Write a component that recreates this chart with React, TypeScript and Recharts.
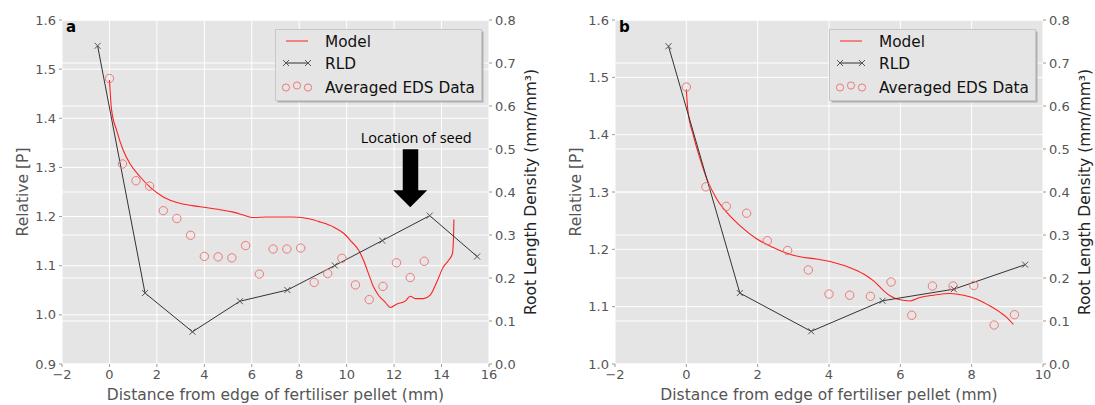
import React from "react"
import {
  ComposedChart,
  Line,
  Scatter,
  XAxis,
  YAxis,
  CartesianGrid,
  Legend,
  ReferenceDot,
} from "recharts"

// values
const RLD_X = [-0.5, 1.5, 3.5, 5.5, 7.5, 9.5, 11.5, 13.5, 15.5]
const RLD_A = [0.74, 0.165, 0.075, 0.146, 0.172, 0.229, 0.287, 0.345, 0.25]
const RLD_B = [0.739, 0.165, 0.076, 0.147, 0.174, 0.231]

const EDS_X = [
  0, 0.55, 1.12, 1.69, 2.27, 2.84, 3.42, 4.0, 4.58, 5.16, 5.74, 6.32, 6.9, 7.48, 8.06, 8.63,
  9.2, 9.8, 10.37, 10.95, 11.53, 12.1, 12.68, 13.27,
]
const EDS_A = [
  1.481, 1.307, 1.273, 1.262, 1.212, 1.196, 1.162, 1.119, 1.118, 1.116, 1.141, 1.083, 1.134,
  1.134, 1.136, 1.066, 1.084, 1.115, 1.061, 1.031, 1.058, 1.106, 1.076, 1.109,
]
const EDS_B = [
  1.483, 1.309, 1.275, 1.263, 1.215, 1.198, 1.164, 1.122, 1.12, 1.118, 1.143, 1.085, 1.136,
  1.136, 1.137, 1.068, 1.086,
]

const MODEL_A_X = [
  0, 0.09, 0.3, 0.58, 0.86, 1.29, 1.71, 2.27, 2.97, 3.82, 4.66, 5.22, 5.65, 6.0, 6.63, 7.76,
  8.46, 8.88, 9.44, 9.87, 10.22, 10.5, 10.71, 10.92, 11.13, 11.34, 11.62, 11.84, 12.12, 12.47,
  12.68, 12.89, 13.24, 13.52, 13.8, 14.08, 14.3, 14.46, 14.51, 14.52,
]
const MODEL_A = [
  1.478, 1.417, 1.376, 1.335, 1.308, 1.281, 1.26, 1.24, 1.227, 1.22, 1.214, 1.209, 1.203,
  1.198, 1.199, 1.199, 1.195, 1.189, 1.179, 1.166, 1.148, 1.132, 1.111, 1.084, 1.057, 1.04,
  1.026, 1.015, 1.022, 1.028, 1.038, 1.033, 1.033, 1.04, 1.067, 1.098, 1.111, 1.125, 1.166,
  1.194,
]

const MODEL_B_X = [
  0, 0.04, 0.2, 0.39, 0.58, 0.86, 1.14, 1.51, 1.98, 2.44, 2.82, 3.19, 3.66, 4.13, 4.59, 4.97,
  5.25, 5.53, 5.71, 5.99, 6.27, 6.55, 6.93, 7.39, 7.77, 8.15, 8.52, 8.8, 8.99, 9.17,
]
const MODEL_B = [
  1.479, 1.444, 1.398, 1.357, 1.322, 1.287, 1.264, 1.241, 1.218, 1.203, 1.193, 1.187, 1.183,
  1.177, 1.168, 1.157, 1.145, 1.128, 1.119, 1.112, 1.11, 1.116, 1.12, 1.123, 1.12, 1.113,
  1.101, 1.09, 1.081, 1.069,
]

const X_TICKS_A = [-2, 0, 2, 4, 6, 8, 10, 12, 14, 16]
const X_TICKS_B = [-2, 0, 2, 4, 6, 8, 10]
const P_TICKS_A = [0.9, 1.0, 1.1, 1.2, 1.3, 1.4, 1.5, 1.6]
const P_TICKS_B = [1.0, 1.1, 1.2, 1.3, 1.4, 1.5, 1.6]
const RLD_TICKS = [0, 0.1, 0.2, 0.3, 0.4, 0.5, 0.6, 0.7, 0.8]

// seed annotation (panel a): arrow tip location in data coords
const SEED = { x: 12.68, p: 1.219, label: "Location of seed" }

const BG = "#e5e5e5"
const RED = "#ff2020"
const EDS_RED = "#f07878"
const TICK_FONT = { fontFamily: "DejaVu Sans", fontSize: 13, fill: "#555" }

const zip = (xs: number[], ys: number[], key: string) =>
  ys.map((v, i) => ({ x: xs[i], [key]: v }))

const fmtX = (v: number) => (v < 0 ? `\u2212${-v}` : `${v}`)

function CrossDot(props: any) {
  const { cx, cy, index } = props
  if (cx == null || cy == null) return <g key={index} />
  const s = 3
  return (
    <path
      key={index}
      d={`M${cx - s},${cy - s}L${cx + s},${cy + s}M${cx - s},${cy + s}L${cx + s},${cy - s}`}
      stroke="#555"
      strokeWidth={1}
      fill="none"
    />
  )
}

function LegendBox() {
  return (
    <svg width={210} height={75} style={{ display: "block" }}>
      <rect x={2.5} y={2.5} width={206} height={71} fill="#b0b0b0" />
      <rect x={0.5} y={0.5} width={206} height={71} fill={BG} stroke="#c8c8c8" />
      <line x1={11} x2={33} y1={12} y2={12} stroke={RED} strokeWidth={1} />
      <line x1={11} x2={33} y1={34} y2={34} stroke="#333" strokeWidth={1} />
      <CrossDot cx={11} cy={34} />
      <CrossDot cx={33} cy={34} />
      <circle cx={11} cy={58.5} r={3.6} fill="none" stroke={EDS_RED} />
      <circle cx={22} cy={56.5} r={3.6} fill="none" stroke={EDS_RED} />
      <circle cx={33} cy={58.5} r={3.6} fill="none" stroke={EDS_RED} />
      <g fontFamily="DejaVu Sans" fontSize={15.3} fill="#111">
        <text x={50} y={17.5}>Model</text>
        <text x={50} y={40}>RLD</text>
        <text x={50} y={63.5}>Averaged EDS Data</text>
      </g>
    </svg>
  )
}

function SeedArrow(props: any) {
  const { cx, cy } = props
  if (cx == null || cy == null) return <g />
  return (
    <g>
      <polygon
        points={`${cx - 7.5},${cy - 58} ${cx + 8},${cy - 58} ${cx + 8},${cy - 17} ${cx + 17},${cy - 17} ${cx},${cy} ${cx - 17},${cy - 17} ${cx - 7.5},${cy - 17}`}
        fill="#000"
      />
      <text
        x={cx + 6}
        y={cy - 64}
        textAnchor="middle"
        fontFamily="Open Sans"
        fontSize={14.5}
        fill="#000"
      >
        {SEED.label}
      </text>
    </g>
  )
}

type PanelProps = {
  left: number
  width: number
  rightWidth: number
  xMax: number
  xTicks: number[]
  pMin: number
  pTicks: number[]
  model: { x: number; p: number }[]
  eds: { x: number; p: number }[]
  rld: { x: number; r: number }[]
  tag: string
  seed?: boolean
}

function Panel(props: PanelProps) {
  const { left, width, rightWidth, xMax, xTicks, pMin, pTicks, model, eds, rld, tag, seed } =
    props
  const plotLeft = 62
  const plotRight = width - rightWidth
  return (
    <div style={{ position: "absolute", left, top: 0, width, height: 405 }}>
      <ComposedChart
        width={width}
        height={405}
        margin={{ top: 19, right: 0, bottom: 0, left: 0 }}
      >
        <CartesianGrid
          yAxisId="p"
          fill={BG}
          stroke="#fff"
          strokeWidth={1}
          vertical
          horizontal
        />
        <CartesianGrid yAxisId="r" stroke="#fff" strokeWidth={1} vertical={false} horizontal />
        <XAxis
          type="number"
          dataKey="x"
          domain={[-2, xMax]}
          ticks={xTicks}
          allowDataOverflow
          tickFormatter={fmtX}
          height={41}
          axisLine={false}
          tickSize={3}
          tickMargin={3}
          tickLine={{ stroke: "#999" }}
          tick={TICK_FONT}
          label={{
            value: "Distance from edge of fertiliser pellet (mm)",
            position: "center",
            dy: 10,
            style: { fontFamily: "DejaVu Sans", fontSize: 15.5, fill: "#555" },
          }}
        />
        <XAxis
          xAxisId="top"
          orientation="top"
          type="number"
          dataKey="x"
          domain={[-2, xMax]}
          ticks={xTicks}
          allowDataOverflow
          height={1}
          axisLine={false}
          tick={false}
          tickSize={3}
          tickLine={{ stroke: "#999" }}
        />
        <YAxis
          yAxisId="p"
          type="number"
          dataKey="p"
          domain={[pMin, 1.6]}
          ticks={pTicks}
          allowDataOverflow
          tickFormatter={(v: number) => v.toFixed(1)}
          width={plotLeft}
          axisLine={false}
          tickSize={3}
          tickMargin={3}
          tickLine={{ stroke: "#999" }}
          tick={TICK_FONT}
          label={{
            value: "Relative [P]",
            angle: -90,
            position: "center",
            dx: -9,
            style: { fontFamily: "DejaVu Sans", fontSize: 15.5, fill: "#555" },
          }}
        />
        <YAxis
          yAxisId="r"
          orientation="right"
          type="number"
          dataKey="r"
          domain={[0, 0.8]}
          ticks={RLD_TICKS}
          allowDataOverflow
          tickFormatter={(v: number) => v.toFixed(1)}
          width={rightWidth}
          axisLine={false}
          tickSize={3}
          tickMargin={3}
          tickLine={{ stroke: "#999" }}
          tick={TICK_FONT}
          label={{
            value: "Root Length Density (mm/mm\u00b3)",
            angle: -90,
            position: "center",
            dx: 41 - rightWidth / 2,
            style: { fontFamily: "DejaVu Sans", fontSize: 15.5, fill: "#222" },
          }}
        />
        <Line
          yAxisId="p"
          data={model}
          dataKey="p"
          type="monotone"
          stroke={RED}
          strokeWidth={1.1}
          dot={false}
          isAnimationActive={false}
          legendType="none"
        />
        <Line
          yAxisId="r"
          data={rld}
          dataKey="r"
          type="linear"
          stroke="#333"
          strokeWidth={1}
          dot={CrossDot}
          activeDot={false}
          isAnimationActive={false}
        />
        <Scatter
          yAxisId="p"
          data={eds}
          dataKey="p"
          isAnimationActive={false}
          shape={(s: any) => (
            <circle cx={s.cx} cy={s.cy} r={4.2} fill="none" stroke={EDS_RED} strokeWidth={1} />
          )}
        />
        {seed && (
          <ReferenceDot
            yAxisId="p"
            x={SEED.x}
            y={SEED.p}
            ifOverflow="visible"
            shape={SeedArrow}
          />
        )}
        <Legend
          layout="vertical"
          align="center"
          verticalAlign="middle"
          content={() => <LegendBox />}
          wrapperStyle={{
            left: plotRight - 214,
            top: 29,
            width: 210,
            height: 75,
            margin: 0,
            padding: 0,
          }}
        />
      </ComposedChart>
      <div
        style={{
          position: "absolute",
          left: plotLeft + 4,
          top: 18,
          fontFamily: "DejaVu Sans",
          fontWeight: "bold",
          fontSize: 15,
          color: "#000",
        }}
      >
        {tag}
      </div>
    </div>
  )
}

export default function App() {
  return (
    <div
      style={{
        position: "absolute",
        left: 0,
        top: 0,
        width: 1095,
        height: 405,
        background: "#fff",
        overflow: "hidden",
      }}
    >
      <Panel
        left={0}
        width={545}
        rightWidth={56}
        xMax={16}
        xTicks={X_TICKS_A}
        pMin={0.9}
        pTicks={P_TICKS_A}
        model={zip(MODEL_A_X, MODEL_A, "p") as any}
        eds={zip(EDS_X, EDS_A, "p") as any}
        rld={zip(RLD_X, RLD_A, "r") as any}
        tag="a"
        seed
      />
      <Panel
        left={553}
        width={542}
        rightWidth={52}
        xMax={10}
        xTicks={X_TICKS_B}
        pMin={1.0}
        pTicks={P_TICKS_B}
        model={zip(MODEL_B_X, MODEL_B, "p") as any}
        eds={zip(EDS_X, EDS_B, "p") as any}
        rld={zip(RLD_X, RLD_B, "r") as any}
        tag="b"
      />
    </div>
  )
}
